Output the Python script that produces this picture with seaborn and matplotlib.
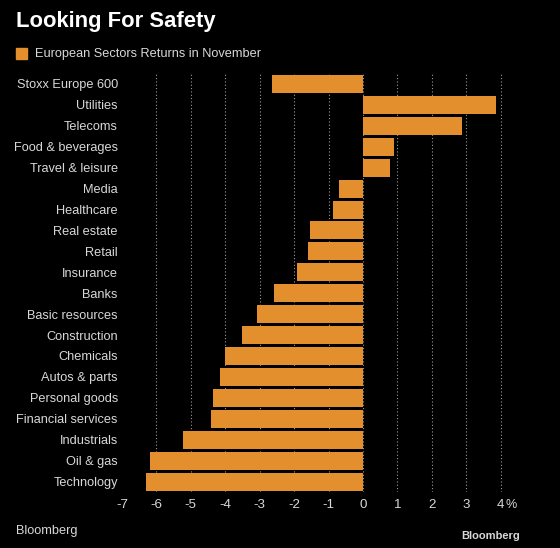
import numpy as np
import pandas as pd
import seaborn as sns
import matplotlib.pyplot as plt

# european sector returns, november
sectors = ["Stoxx Europe 600", "Utilities", "Telecoms", "Food & beverages",
           "Travel & leisure", "Media", "Healthcare", "Real estate", "Retail",
           "Insurance", "Banks", "Basic resources", "Construction", "Chemicals",
           "Autos & parts", "Personal goods", "Financial services",
           "Industrials", "Oil & gas", "Technology"]
returns = [-2.63, 3.86, 2.86, 0.90, 0.79, -0.71, -0.86, -1.53, -1.61, -1.92,
           -2.58, -3.07, -3.52, -4.00, -4.14, -4.37, -4.41, -5.24, -6.18, -6.31]
ticks = [-7, -6, -5, -4, -3, -2, -1, 0, 1, 2, 3, 4]

df = pd.DataFrame({"sector": sectors, "ret": returns})

sns.set_style("dark")
plt.rcParams['font.family'] = ['Liberation Sans', 'DejaVu Sans']

orange = "#E38F2D"
txt = "#D8D8D8"

fig = plt.figure(figsize=(5.6, 5.48), dpi=100, facecolor="black")
ax = fig.add_axes([122/560, 56/548, (518-122)/560, 418.5/548])
ax.set_facecolor("black")

sns.barplot(data=df, x="ret", y="sector", orient="h", color=orange,
            saturation=1, width=0.86, ax=ax, edgecolor="none", linewidth=0)
for p in ax.patches:
    p.set_zorder(3)

ax.set_xlim(-7, 4.5)
ax.set_ylim(19.5, -0.5)
ax.set_xticks(ticks)
ax.set_xticklabels([str(t) for t in ticks])
for t in ticks[1:]:
    ax.axvline(t, color="#9a9a9a", lw=0.8, ls=(0, (1, 2)), zorder=0.5)
ax.grid(False)
ax.set_xlabel("")
ax.set_ylabel("")
for s in ax.spines.values():
    s.set_visible(False)
ax.tick_params(axis="y", length=0, labelsize=9.2, labelcolor=txt, pad=3)
ax.tick_params(axis="x", length=0, labelsize=9.6, labelcolor=txt, pad=5)
ax.text(4.3, -0.031, "%", transform=ax.get_xaxis_transform(), color=txt,
        fontsize=9, va="center", ha="center")

fig.text(16/560, 1 - 22/548, "Looking For Safety", color="white", fontsize=15.8,
         fontweight="bold", va="center", ha="left")
fig.patches.append(plt.Rectangle((16/560, 1 - 59/548), 11/560, 11/548,
                                 transform=fig.transFigure, color=orange))
fig.text(35/560, 1 - 54/548, "European Sectors Returns in November", color=txt,
         fontsize=9.2, va="center", ha="left")
fig.text(16/560, 1 - 531/548, "Bloomberg", color=txt, fontsize=9.2,
         va="center", ha="left")
fig.text(520/560, 1 - 536/548, "Bloomberg", color=txt, fontsize=8,
         fontweight="bold", va="center", ha="right")

fig.savefig("out.png", dpi=100, facecolor="black")
